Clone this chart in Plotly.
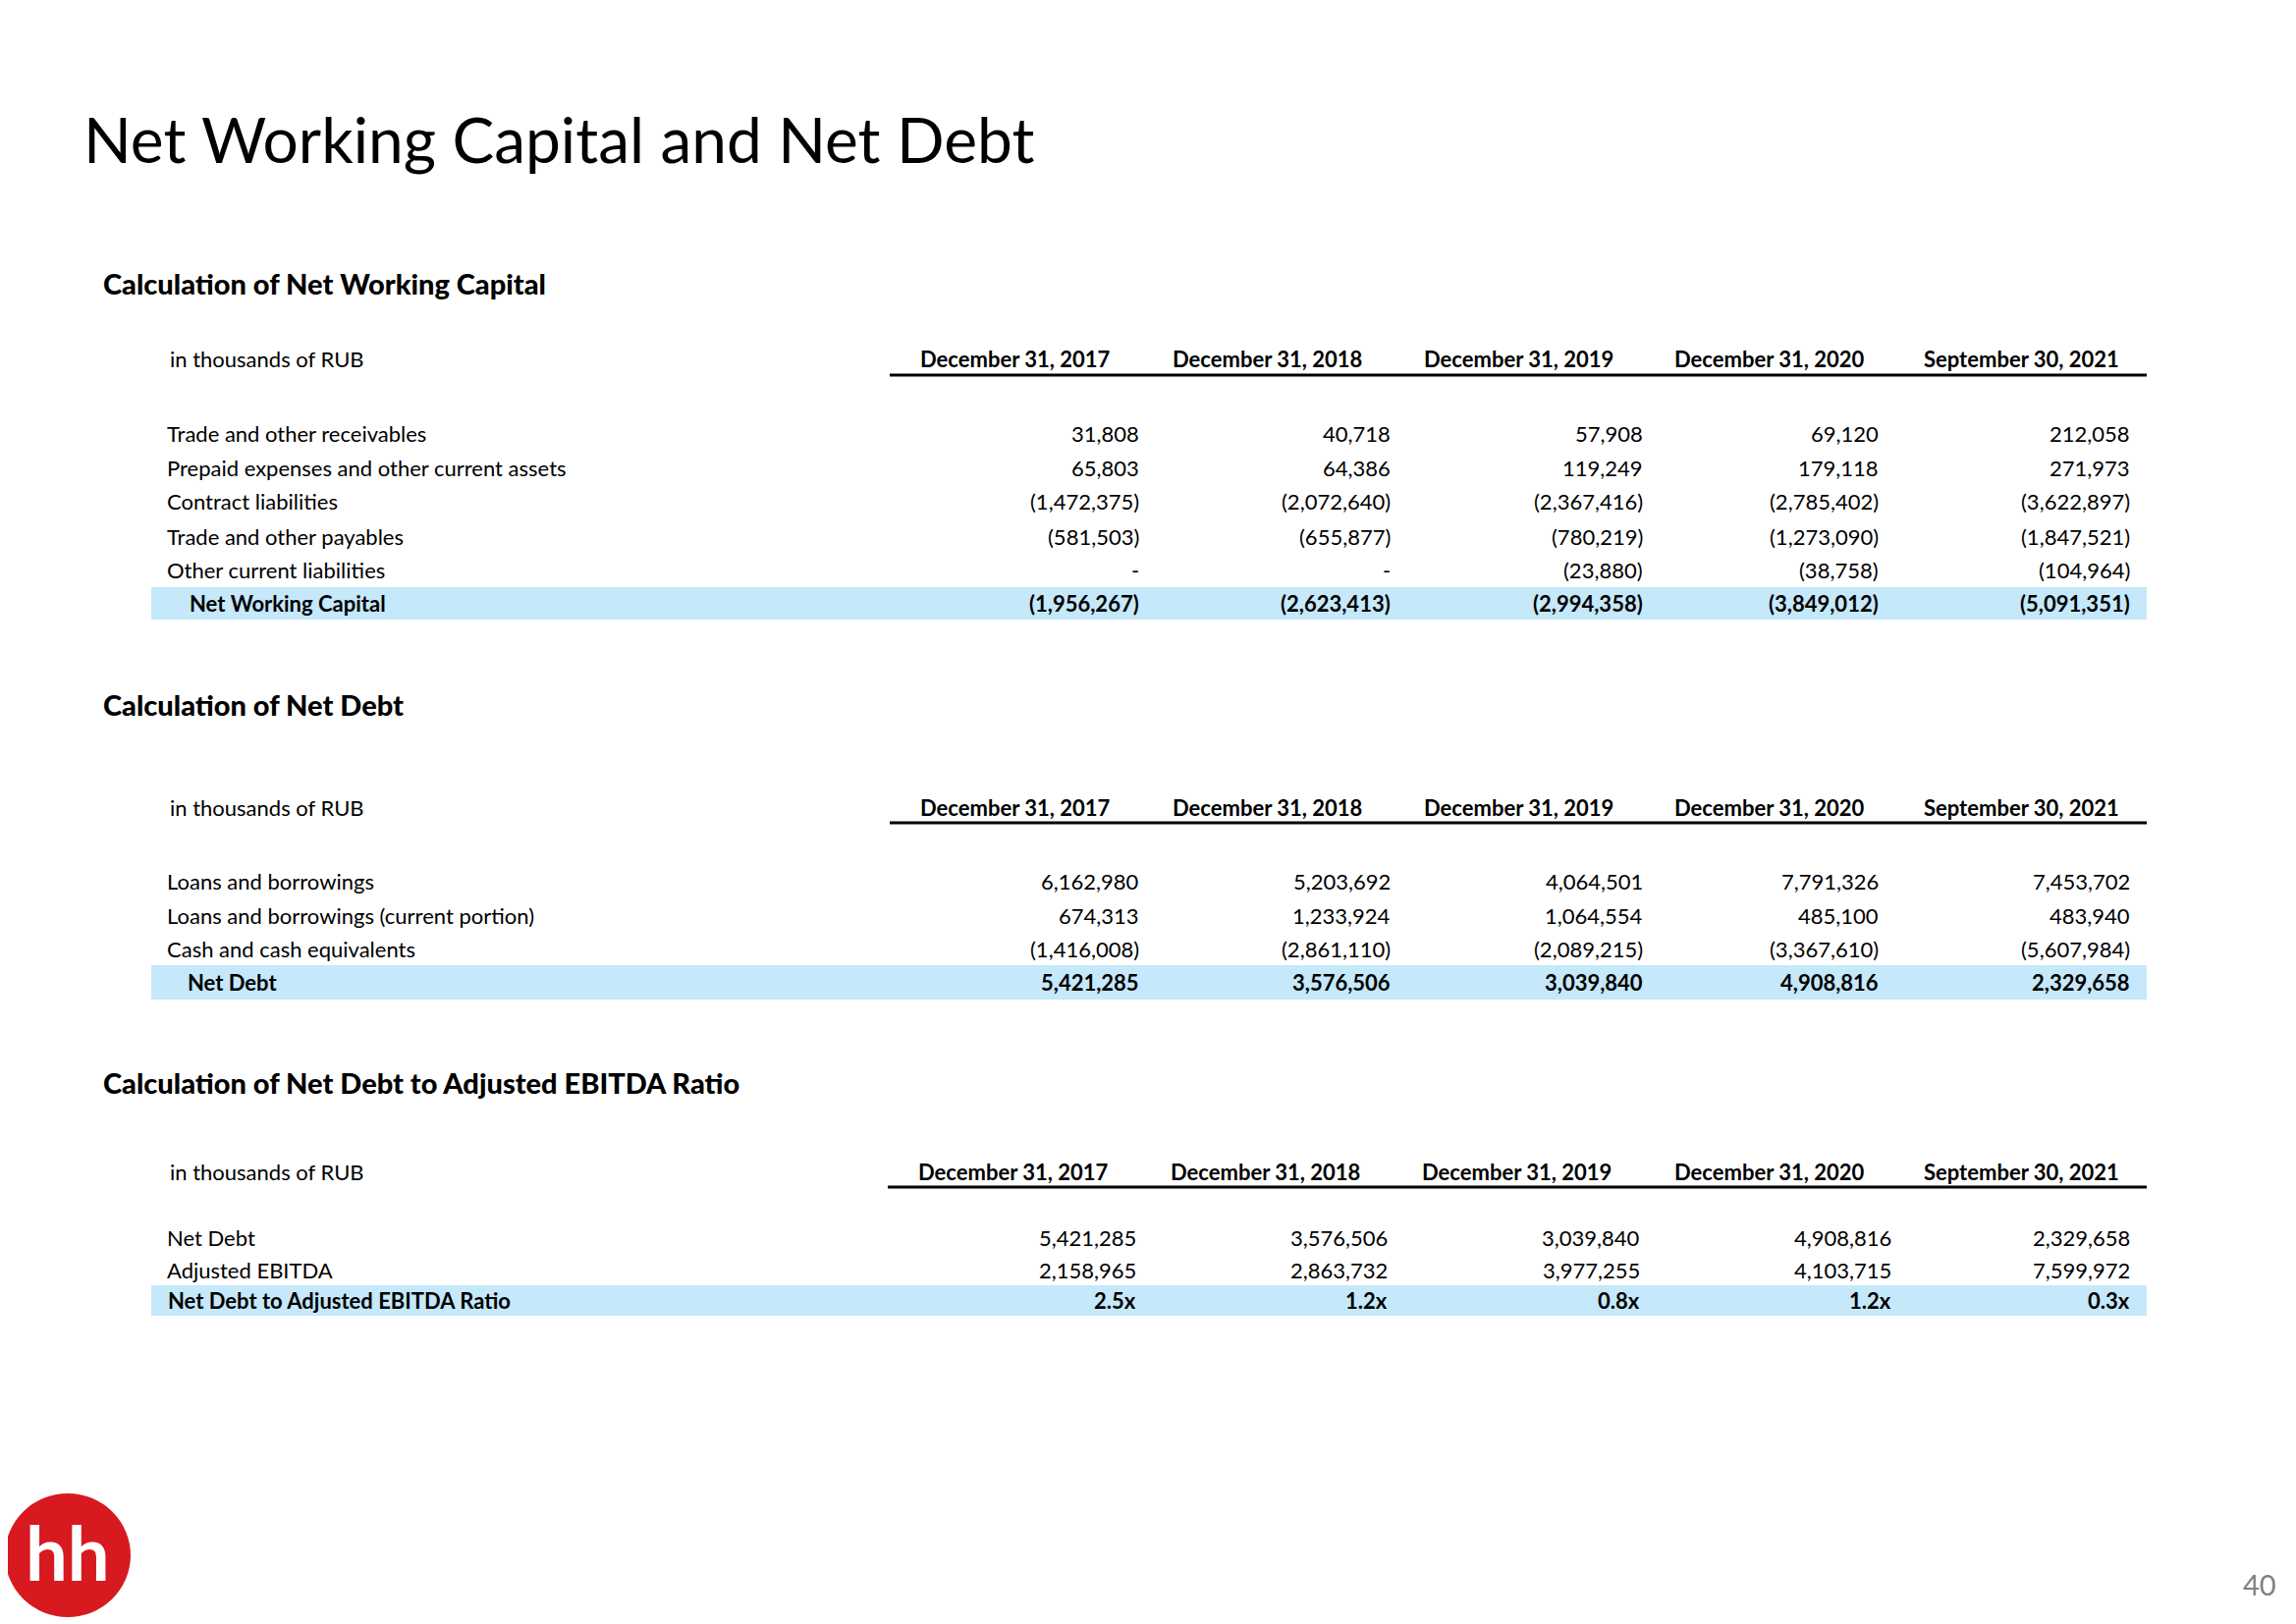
import plotly.graph_objects as go

W, H = 2338, 1654
OFF = 8  # default body margin of the html page

# ---------------- data ----------------
TITLE = "Net Working Capital and Net Debt"
UNIT = "in thousands of RUB"
PERIODS = ["December 31, 2017", "December 31, 2018", "December 31, 2019",
           "December 31, 2020", "September 30, 2021"]

nwc_heading = "Calculation of Net Working Capital"
nwc_labels = ["Trade and other receivables",
              "Prepaid expenses and other current assets",
              "Contract liabilities",
              "Trade and other payables",
              "Other current liabilities"]
nwc_receivables = ["31,808", "40,718", "57,908", "69,120", "212,058"]
nwc_prepaid = ["65,803", "64,386", "119,249", "179,118", "271,973"]
nwc_contract = ["(1,472,375)", "(2,072,640)", "(2,367,416)", "(2,785,402)", "(3,622,897)"]
nwc_payables = ["(581,503)", "(655,877)", "(780,219)", "(1,273,090)", "(1,847,521)"]
nwc_other = ["-", "-", "(23,880)", "(38,758)", "(104,964)"]
nwc_total_label = "Net Working Capital"
nwc_total = ["(1,956,267)", "(2,623,413)", "(2,994,358)", "(3,849,012)", "(5,091,351)"]

nd_heading = "Calculation of Net Debt"
nd_labels = ["Loans and borrowings",
             "Loans and borrowings (current portion)",
             "Cash and cash equivalents"]
nd_loans = ["6,162,980", "5,203,692", "4,064,501", "7,791,326", "7,453,702"]
nd_loans_current = ["674,313", "1,233,924", "1,064,554", "485,100", "483,940"]
nd_cash = ["(1,416,008)", "(2,861,110)", "(2,089,215)", "(3,367,610)", "(5,607,984)"]
nd_total_label = "Net Debt"
nd_total = ["5,421,285", "3,576,506", "3,039,840", "4,908,816", "2,329,658"]

ratio_heading = "Calculation of Net Debt to Adjusted EBITDA Ratio"
ratio_labels = ["Net Debt", "Adjusted EBITDA"]
ratio_net_debt = ["5,421,285", "3,576,506", "3,039,840", "4,908,816", "2,329,658"]
ratio_ebitda = ["2,158,965", "2,863,732", "3,977,255", "4,103,715", "7,599,972"]
ratio_total_label = "Net Debt to Adjusted EBITDA Ratio"
ratio_total = ["2.5x", "1.2x", "0.8x", "1.2x", "0.3x"]

PAGE = "40"
LOGO = "hh"

# ---------------- styling / layout ----------------
FONT = "Lato, Roboto, sans-serif"
BAND = "#C5E8FA"
FS = 22

tables = [
    dict(heading=nwc_heading, heading_y=288, header_y=365, line_y=382,
         line_x0=906, row_y=[441, 476, 510, 546, 580], total_y=614, band=(598, 631),
         labels=nwc_labels,
         rows=[nwc_receivables, nwc_prepaid, nwc_contract, nwc_payables, nwc_other],
         total_label=nwc_total_label, total=nwc_total, total_x=191,
         head_x=[1034, 1290, 1546, 1802, 2058],
         val_x=[1162, 1418, 1675, 1915, 2171]),
    dict(heading=nd_heading, heading_y=717, header_y=822, line_y=838,
         line_x0=906, row_y=[897, 932, 966], total_y=1000, band=(983, 1018),
         labels=nd_labels, rows=[nd_loans, nd_loans_current, nd_cash],
         total_label=nd_total_label, total=nd_total, total_x=189,
         head_x=[1034, 1290, 1546, 1802, 2058],
         val_x=[1162, 1418, 1675, 1915, 2171]),
    dict(heading=ratio_heading, heading_y=1102, header_y=1193, line_y=1209,
         line_x0=904, row_y=[1260, 1293], total_y=1324, band=(1309, 1340),
         labels=ratio_labels, rows=[ratio_net_debt, ratio_ebitda],
         total_label=ratio_total_label, total=ratio_total, total_x=169,
         head_x=[1032, 1288, 1544, 1802, 2058],
         val_x=[1159, 1415, 1672, 1928, 2171]),
]

ann = []
shapes = []


def txt(x, y, s, size=FS, bold=False, anchor="left", color="#000000", weight=None):
    w = weight if weight is not None else ("bold" if bold else "normal")
    ann.append(dict(x=x, y=y, xref="x", yref="y", text=s, showarrow=False,
                    xanchor=anchor, yanchor="middle",
                    font=dict(family=FONT, size=size, color=color, weight=w)))


txt(83, 141, TITLE, size=64)

for t in tables:
    txt(103, t["heading_y"], t["heading"], size=29, weight=900)
    txt(171, t["header_y"], UNIT)
    for cx, p in zip(t["head_x"], PERIODS):
        txt(cx, t["header_y"], p, bold=True, anchor="center")
    shapes.append(dict(type="line", xref="x", yref="y", x0=t["line_x0"], x1=2186,
                       y0=t["line_y"], y1=t["line_y"], line=dict(color="#000000", width=3)))
    shapes.append(dict(type="rect", xref="x", yref="y", x0=154, x1=2186,
                       y0=t["band"][0], y1=t["band"][1], fillcolor=BAND,
                       line=dict(width=0), layer="below"))
    for ry, lab, vals in zip(t["row_y"], t["labels"], t["rows"]):
        txt(168, ry, lab)
        for vx, v in zip(t["val_x"], vals):
            txt(vx, ry, v, anchor="right")
    txt(t["total_x"], t["total_y"], t["total_label"], bold=True)
    for vx, v in zip(t["val_x"], t["total"]):
        txt(vx, t["total_y"], v, bold=True, anchor="right")

# logo
shapes.append(dict(type="circle", xref="x", yref="y", x0=5, x1=133, y0=1521, y1=1647,
                   fillcolor="#D71920", line=dict(width=0)))
txt(69, 1580, LOGO, size=76, bold=True, anchor="center", color="#FFFFFF")

# page number
txt(2301, 1613, PAGE, size=29, anchor="center", color="#808080")

fig = go.Figure()
fig.update_layout(
    width=W, height=H, margin=dict(l=0, r=0, t=0, b=0),
    paper_bgcolor="#FFFFFF", plot_bgcolor="#FFFFFF",
    xaxis=dict(range=[OFF, W + OFF], visible=False, fixedrange=True),
    yaxis=dict(range=[H + OFF, OFF], visible=False, fixedrange=True),
    showlegend=False, annotations=ann, shapes=shapes,
)

fig.write_html("out.html", config={"displayModeBar": False})
